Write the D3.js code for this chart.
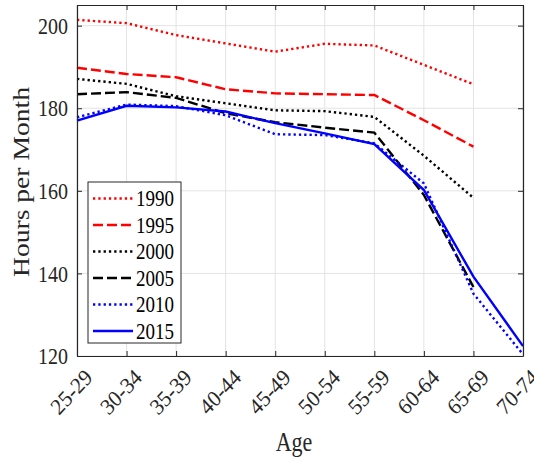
<!DOCTYPE html>
<html>
<head>
<meta charset="utf-8">
<script src="https://cdn.jsdelivr.net/npm/d3@7"></script>
<style>
  body { margin: 0; background: #fff; }
  text { font-family: "Liberation Serif", "Times New Roman", serif; fill: #262626; }
</style>
</head>
<body>
<svg id="chart" width="534" height="461"></svg>
<script>
var ages = ['25-29', '30-34', '35-39', '40-44', '45-49', '50-54', '55-59', '60-64', '65-69', '70-74'];
var yTicks = [120, 140, 160, 180, 200];
var years = ['1990', '1995', '2000', '2005', '2010', '2015'];

var h1990 = [201.4, 200.6, 197.7, 195.7, 193.7, 195.6, 195.2, 190.5, 185.8];
var h1995 = [189.8, 188.3, 187.5, 184.6, 183.6, 183.4, 183.2, 177.1, 170.7];
var h2000 = [187.1, 185.9, 182.9, 181.2, 179.5, 179.3, 177.9, 168.5, 158.3];
var h2005 = [183.4, 183.9, 182.5, 178.8, 176.6, 175.3, 174.1, 159.0, 136.7];
var h2010 = [177.8, 180.9, 180.5, 178.3, 173.7, 173.5, 171.5, 161.8, 135.1, 120.4];
var h2015 = [177.0, 180.6, 180.2, 179.2, 176.4, 173.9, 171.3, 160.2, 139.2, 122.4];

var series = [
  { year: years[0], values: h1990, color: '#ff0000', dash: '2.3,3' },
  { year: years[1], values: h1995, color: '#ff0000', dash: '10,4' },
  { year: years[2], values: h2000, color: '#000000', dash: '2.3,3' },
  { year: years[3], values: h2005, color: '#000000', dash: '10,4' },
  { year: years[4], values: h2010, color: '#0000ff', dash: '2.3,3' },
  { year: years[5], values: h2015, color: '#0000ff', dash: null }
];

// text in the reference is a bit taller than wide
var sy = 1.2;
var margin = { left: 77, right: 11, top: 5, bottom: 105 };
var W = 534, H = 461;
var svg = d3.select('#chart');

var x = d3.scalePoint().domain(ages).range([margin.left, W - margin.right]);
var y = d3.scaleLinear().domain([120, 205]).range([H - margin.bottom, margin.top]);

var x0 = margin.left, x1 = W - margin.right, y0 = H - margin.bottom, y1 = margin.top;

// grid
var grid = svg.append('g').attr('class', 'grid');
grid.selectAll('line.gx').data(ages).enter().append('line')
  .attr('x1', function(d) { return x(d); }).attr('x2', function(d) { return x(d); })
  .attr('y1', y0).attr('y2', y1)
  .style('stroke', '#e3e3e3').style('stroke-width', 1);
grid.selectAll('line.gy').data(yTicks).enter().append('line')
  .attr('x1', x0).attr('x2', x1)
  .attr('y1', function(d) { return y(d); }).attr('y2', function(d) { return y(d); })
  .style('stroke', '#e3e3e3').style('stroke-width', 1);

// lines
var line = d3.line()
  .x(function(d, i) { return x(ages[i]); })
  .y(function(d) { return y(d); });

svg.append('g').selectAll('path').data(series).enter().append('path')
  .attr('d', function(d) { return line(d.values); })
  .style('fill', 'none')
  .style('stroke', function(d) { return d.color; })
  .style('stroke-width', 2.4)
  .style('stroke-dasharray', function(d) { return d.dash; });

// axes (inward ticks, MATLAB box)
var axisColor = '#262626';
var gBottom = svg.append('g').attr('transform', 'translate(0,' + y0 + ')')
  .call(d3.axisBottom(x).tickSizeInner(-5).tickSizeOuter(0).tickPadding(12));
var gTop = svg.append('g').attr('transform', 'translate(0,' + y1 + ')')
  .call(d3.axisTop(x).tickSizeInner(-5).tickSizeOuter(0).tickFormat(''));
var gLeft = svg.append('g').attr('transform', 'translate(' + x0 + ',0)')
  .call(d3.axisLeft(y).tickValues(yTicks).tickSizeInner(-5).tickSizeOuter(0).tickPadding(9));
var gRight = svg.append('g').attr('transform', 'translate(' + x1 + ',0)')
  .call(d3.axisRight(y).tickValues(yTicks).tickSizeInner(-5).tickSizeOuter(0).tickFormat(''));

[gBottom, gTop, gLeft, gRight].forEach(function(g) {
  g.select('.domain').style('stroke', axisColor).style('stroke-width', 1.2);
  g.selectAll('.tick line').style('stroke', axisColor).style('stroke-width', 1);
});

gLeft.selectAll('.tick text')
  .style('font-size', '20px')
  .style('font-family', '"Liberation Serif", serif')
  .style('fill', axisColor)
  .attr('transform', 'scale(1,' + sy + ')');

gBottom.selectAll('.tick text')
  .style('font-size', '21px')
  .style('font-family', '"Liberation Serif", serif')
  .style('fill', axisColor)
  .attr('text-anchor', 'end')
  .attr('x', 0).attr('y', 0).attr('dy', '0.35em')
  .attr('transform', 'translate(11,17) scale(1,1.08) rotate(-45)');

// axis labels
svg.append('text')
  .attr('transform', 'translate(294,451) scale(1,' + sy + ')')
  .attr('text-anchor', 'middle')
  .style('font-size', '22px')
  .text('Age');

svg.append('text')
  .attr('transform', 'translate(29,182) scale(1,' + sy + ') rotate(-90)')
  .attr('text-anchor', 'middle')
  .style('font-size', '23px')
  .text('Hours per Month');

// legend
var legend = svg.append('g').attr('transform', 'translate(88,182)');
legend.append('rect')
  .attr('width', 93).attr('height', 161)
  .style('fill', '#fff').style('stroke', axisColor).style('stroke-width', 1);

var item = legend.selectAll('g.item').data(series).enter().append('g')
  .attr('class', 'item')
  .attr('transform', function(d, i) { return 'translate(0,' + (16.5 + i * 26.5) + ')'; });

item.append('line')
  .attr('x1', 5).attr('x2', 45).attr('y1', 0).attr('y2', 0)
  .style('stroke', function(d) { return d.color; })
  .style('stroke-width', 2.4)
  .style('stroke-dasharray', function(d) { return d.dash; });

item.append('text')
  .attr('transform', 'translate(48,0) scale(1,' + sy + ')')
  .attr('dy', '0.35em')
  .style('font-size', '19px')
  .style('fill', '#000')
  .text(function(d) { return d.year; });
</script>
</body>
</html>
